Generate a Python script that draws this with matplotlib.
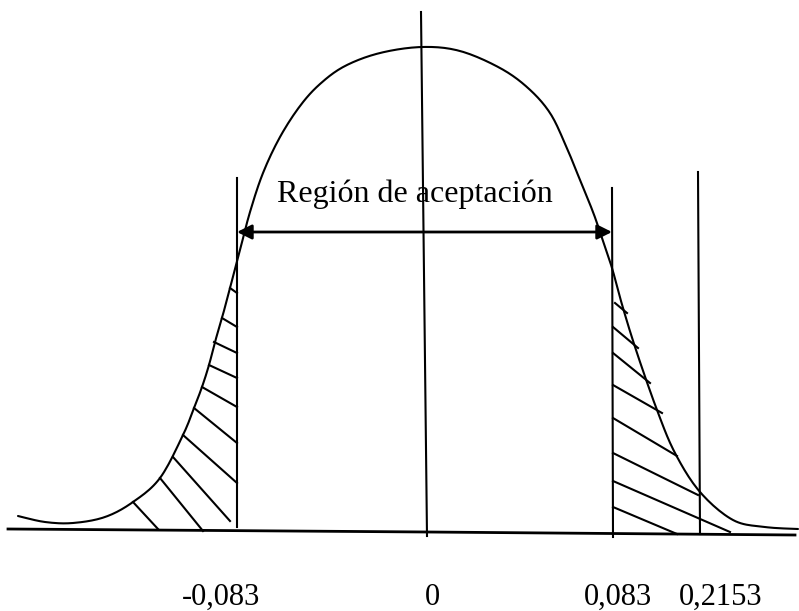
import matplotlib
matplotlib.use("Agg")
import matplotlib.pyplot as plt
import numpy as np

# ---- diagram data (schematic, in picture units: x right, y down) ----
curve_x = [18, 45, 73, 105, 133, 160, 183, 194, 202, 209, 215, 222, 230, 240,
           250, 263, 280, 300, 320, 345, 380, 422, 460, 500, 528, 550, 566, 580,
           593, 602, 612, 623, 637, 657, 675, 700, 733, 765, 798]
curve_y = [516, 522, 523, 517, 502, 478, 435, 408, 387, 365, 342, 318, 288, 250,
           212, 173, 137, 106, 84, 66, 53, 47, 51, 68, 88, 113, 146, 180,
           212, 238, 268, 308, 353, 410, 453, 492, 520, 527, 529]

baseline_x = [8, 427, 795]
baseline_y = [529, 532, 535]

# vertical lines: (x_top, y_top, x_bottom, y_bottom)
vlines = [
    (237, 178, 237, 527),   # -0,083
    (421, 12, 427, 536),    # 0
    (612, 188, 613, 537),   # 0,083
    (698, 172, 700, 534),   # 0,2153
]

# hatch segments of rejection regions
hatch_left = [
    (230, 288, 237, 293), (222, 318, 237, 327), (214, 342, 237, 353),
    (209, 365, 237, 378), (202, 387, 237, 407), (194, 408, 237, 443),
    (183, 435, 237, 483), (173, 457, 230, 521), (160, 478, 203, 531),
    (133, 502, 158, 529),
]
hatch_right = [
    (615, 303, 627, 313), (613, 327, 638, 348), (613, 353, 650, 383),
    (613, 385, 662, 413), (613, 418, 677, 456), (613, 453, 698, 495),
    (613, 481, 730, 532), (613, 507, 677, 534),
]

tick_labels = ["-0,083", "0", "0,083", "0,2153"]
tick_label_x = [221, 432, 618, 721]
label_baseline_y = 605

region_text = "Región de aceptación"
arrow_y = 232
arrow_x0, arrow_x1 = 237, 612


def smooth_path(xs, ys, n=12):
    """Catmull-Rom rendering of the traced outline (drawing only)."""
    p = np.column_stack([xs, ys]).astype(float)
    p = np.vstack([p[0], p, p[-1]])
    out = []
    t = np.linspace(0, 1, n, endpoint=False)[:, None]
    for i in range(1, len(p) - 2):
        p0, p1, p2, p3 = p[i - 1], p[i], p[i + 1], p[i + 2]
        seg = 0.5 * ((2 * p1) + (-p0 + p2) * t + (2 * p0 - 5 * p1 + 4 * p2 - p3) * t ** 2
                     + (-p0 + 3 * p1 - 3 * p2 + p3) * t ** 3)
        out.append(seg)
    out.append(p[-2][None, :])
    out = np.vstack(out)
    return out[:, 0], out[:, 1]


# ---- drawing ----
fig = plt.figure(figsize=(7.99, 6.11), dpi=100)
ax = fig.add_axes([0, 0, 1, 1])
ax.set_xlim(0, 799)
ax.set_ylim(611, 0)
ax.axis("off")

lw = 1.5
sx, sy = smooth_path(curve_x, curve_y)
ax.plot(sx, sy, color="black", lw=lw, solid_capstyle="round")
ax.plot(baseline_x, baseline_y, color="black", lw=2.0)
for x0, y0, x1, y1 in vlines:
    ax.plot([x0, x1], [y0, y1], color="black", lw=lw)
for x0, y0, x1, y1 in hatch_left + hatch_right:
    ax.plot([x0, x1], [y0, y1], color="black", lw=1.5)

ax.annotate("", xy=(arrow_x0, arrow_y), xytext=(arrow_x1, arrow_y),
            arrowprops=dict(arrowstyle="<|-|>", color="black", lw=2.0,
                            mutation_scale=22, shrinkA=0, shrinkB=0))

ax.text(277, 202, region_text, fontsize=23, family="Liberation Serif",
        ha="left", va="baseline")
for lab, x in zip(tick_labels, tick_label_x):
    ax.text(x, label_baseline_y, lab, fontsize=22, family="Liberation Serif",
            ha="center", va="baseline")

fig.savefig("out.png", dpi=100)
